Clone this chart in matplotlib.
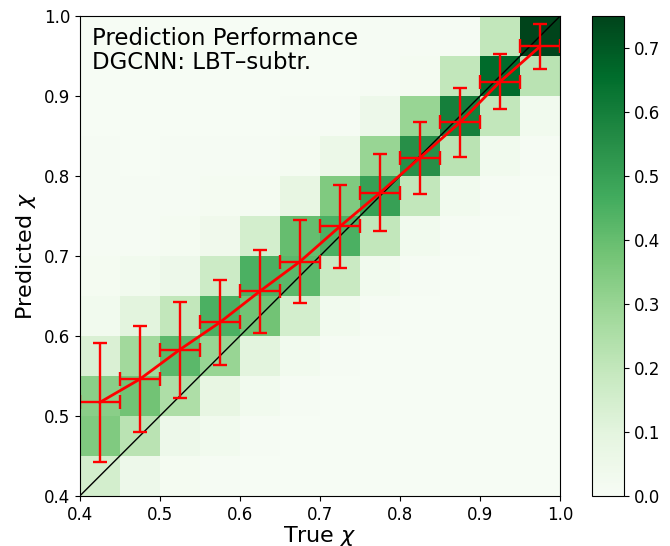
import numpy as np
import matplotlib
matplotlib.use("Agg")
import matplotlib.pyplot as plt

# Bins del histograma (chi verdadero y predicho)
bordes = np.linspace(0.4, 1.0, 13)

# Fraccion por columna (chi verdadero), filas = bins de chi predicho de 0.40 a 0.95
columnas = [
    [0.15, 0.35, 0.33, 0.13, 0.03, 0.02, 0.01, 0.01, 0.01, 0.005, 0.005, 0.005],
    [0.05, 0.22, 0.38, 0.28, 0.10, 0.03, 0.01, 0.01, 0.005, 0.005, 0.005, 0.005],
    [0.02, 0.05, 0.25, 0.42, 0.20, 0.05, 0.02, 0.01, 0.01, 0.005, 0.005, 0.005],
    [0.01, 0.03, 0.08, 0.30, 0.45, 0.17, 0.04, 0.02, 0.01, 0.005, 0.005, 0.005],
    [0.005, 0.01, 0.03, 0.10, 0.38, 0.45, 0.15, 0.02, 0.01, 0.005, 0.005, 0.005],
    [0.005, 0.005, 0.01, 0.03, 0.15, 0.42, 0.40, 0.08, 0.02, 0.01, 0.005, 0.005],
    [0.005, 0.005, 0.005, 0.01, 0.03, 0.18, 0.45, 0.35, 0.06, 0.01, 0.005, 0.005],
    [0.005, 0.005, 0.005, 0.005, 0.01, 0.03, 0.20, 0.50, 0.30, 0.05, 0.01, 0.01],
    [0.005, 0.005, 0.005, 0.005, 0.005, 0.01, 0.03, 0.20, 0.55, 0.30, 0.02, 0.01],
    [0.005, 0.005, 0.005, 0.005, 0.005, 0.005, 0.01, 0.03, 0.22, 0.60, 0.20, 0.01],
    [0.005, 0.005, 0.005, 0.005, 0.005, 0.005, 0.005, 0.01, 0.03, 0.20, 0.66, 0.20],
    [0.005, 0.005, 0.005, 0.005, 0.005, 0.005, 0.005, 0.005, 0.01, 0.03, 0.22, 0.75],
]

# Media y desviacion de la prediccion por bin
chi_centros = [0.425, 0.475, 0.525, 0.575, 0.625, 0.675, 0.725, 0.775, 0.825, 0.875, 0.925, 0.975]
chi_medio = [0.517, 0.546, 0.583, 0.617, 0.656, 0.693, 0.737, 0.779, 0.823, 0.867, 0.918, 0.962]
chi_error = [0.074, 0.066, 0.060, 0.053, 0.052, 0.052, 0.052, 0.048, 0.045, 0.043, 0.034, 0.028]
ancho_bin = 0.025

H = np.array(columnas).T  # filas = predicho, columnas = verdadero

fig = plt.figure(figsize=(6.7, 5.46), dpi=100)
ax = fig.add_axes([0.119, 0.0916, 0.717, 0.879])
cax = fig.add_axes([0.884, 0.0916, 0.048, 0.879])

malla = ax.pcolormesh(bordes, bordes, H, cmap='Greens', vmin=0, vmax=0.75)
ax.plot([0.4, 1.0], [0.4, 1.0], c='k', lw=1)
ax.errorbar(chi_centros, chi_medio, yerr=chi_error, xerr=ancho_bin, c='r',
            lw=2, elinewidth=1.7, capsize=5, capthick=1.7)

ax.set_xlim(0.4, 1.0)
ax.set_ylim(0.4, 1.0)
ax.set_xlabel(r'True $\chi$', fontsize=16, labelpad=0)
ax.set_ylabel(r'Predicted $\chi$', fontsize=16)
ax.tick_params(labelsize=12)
ax.text(0.025, 0.978, 'Prediction Performance\nDGCNN: LBT–subtr.', transform=ax.transAxes,
        fontsize=16.5, va='top', ha='left', linespacing=1.05)

cb = fig.colorbar(malla, cax=cax)
cb.set_ticks(np.arange(0, 0.75, 0.1))
cb.ax.tick_params(labelsize=12)

plt.savefig('out.png', dpi=100)
